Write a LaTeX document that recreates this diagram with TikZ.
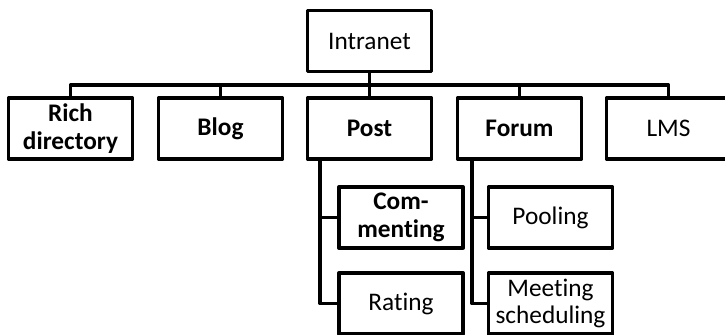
\documentclass[tikz,border=0pt]{standalone}
\usepackage{fontspec}
\setmainfont{Carlito}[Ligatures=NoCommon]
\tikzset{
  box/.style={draw,line width=0.09cm,line join=round,minimum width=3.1cm,minimum height=1.52cm,align=center,inner sep=0pt,font=\fontsize{18}{19.5}\selectfont},
  boldbox/.style={box,font=\fontsize{18}{19.5}\selectfont\bfseries},
  wire/.style={line width=0.09cm,line join=round}
}
\begin{document}
\begin{tikzpicture}[x=0.025cm,y=-0.025cm]
        \clip(0,0)rectangle(725,335); %taglio come nella figura
        \useasboundingbox(0,0)rectangle(725,335);
        %radice
        \node[box](intranet)at(369.5,41){Intranet};
        %primo livello
        \node[boldbox](rich)at(70.5,128.5){Rich\\directory};
        \node[boldbox](blog)at(220.5,128.5){Blog};
        \node[boldbox](post)at(369.5,128.5){Post};
        \node[boldbox](forum)at(519.5,128.5){Forum};
        \node[box](lms)at(668.5,128.5){LMS};
        %secondo livello
        \node[boldbox](commenting)at(401,217.5){Com-\\menting};
        \node[box](rating)at(401,303.5){Rating};
        \node[box](pooling)at(550.5,217.5){Pooling};
        \node[box](meeting)at(550.5,303.5){Meeting\\scheduling};
        %barra orizzontale
        \coordinate(bus)at(0,85);
        \draw[wire](rich.north)--(rich.north|-bus)--(lms.north|-bus)--(lms.north);
        \draw[wire](intranet.south)--(intranet.south|-bus);
        \foreach \n in {blog,post,forum}
          \draw[wire](\n.north)--(\n.north|-bus);
        %rami sotto post e forum
        \coordinate(postdrop)at(320,159.5);
        \coordinate(forumdrop)at(472,159.5);
        \draw[wire](postdrop)|-(rating.west);
        \draw[wire](postdrop|-commenting.west)--(commenting.west);
        \draw[wire](forumdrop)|-(meeting.west);
        \draw[wire](forumdrop|-pooling.west)--(pooling.west);
    \end{tikzpicture}
\end{document}
